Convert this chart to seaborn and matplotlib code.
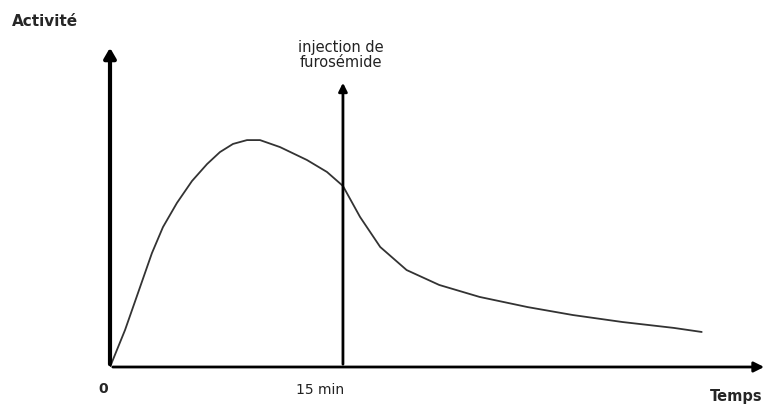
import matplotlib
matplotlib.use("Agg")
import matplotlib.pyplot as plt
import seaborn as sns
import pandas as pd

# courbe d'activite (temps en min, activite en unites arbitraires)
temps = [0, 0.97, 1.80, 2.70, 3.41, 4.31, 5.28, 6.25, 7.08, 7.92, 8.82, 9.66, 10.95, 12.68,
         13.97, 15.0, 16.1, 17.4, 19.1, 21.2, 23.8, 26.9, 29.8, 33.0, 36.3, 38.1]
activite = [0, 16.4, 32.7, 50.4, 61.9, 72.6, 82.3, 89.8, 95.1, 98.7, 100.4, 100.4, 97.3, 91.6,
            86.3, 80.1, 66.4, 53.1, 42.9, 36.3, 31.0, 26.5, 23.0, 19.9, 17.3, 15.5]

t_injection = 15
x_max = 42.3
y_max = 142.5
y_injection = 127

df = pd.DataFrame({"temps": temps, "activite": activite})

sns.set_style("white")
fig = plt.figure(figsize=(7.7, 4.08), dpi=100)
ax = fig.add_axes([110 / 770, 41 / 408, 660 / 770, 367 / 408])
ax.set_xlim(0, 660 / 15.53)
ax.set_ylim(0, 367 / 2.26)
ax.axis("off")

sns.lineplot(data=df, x="temps", y="activite", ax=ax, color="#333333", lw=1.3,
             solid_joinstyle="round")

# axes with arrows
ax.annotate("", xy=(0, y_max), xytext=(0, 0),
            arrowprops=dict(arrowstyle="-|>,head_width=0.35,head_length=0.6", lw=3, color="black"))
ax.annotate("", xy=(x_max, 0), xytext=(0, 0),
            arrowprops=dict(arrowstyle="-|>,head_width=0.3,head_length=0.6", lw=2, color="black"))
ax.annotate("", xy=(t_injection, y_injection), xytext=(t_injection, 0),
            arrowprops=dict(arrowstyle="-|>,head_width=0.25,head_length=0.5", lw=2, color="black"))

fig.text(12 / 770, 1 - 21 / 408, "Activité", fontsize=11, fontweight="bold", va="center", ha="left")
fig.text(341 / 770, 1 - 55 / 408, "injection de\nfurosémide", fontsize=10.5, va="center", ha="center",
         linespacing=1.05, color="#222222")
fig.text(103 / 770, 1 - 389 / 408, "0", fontsize=10, fontweight="bold", va="center", ha="center")
fig.text(320 / 770, 1 - 390 / 408, "15 min", fontsize=10, va="center", ha="center", color="#222222")
fig.text(736 / 770, 1 - 397 / 408, "Temps", fontsize=10.5, fontweight="bold", va="center", ha="center")

fig.savefig("out.png", dpi=100)
